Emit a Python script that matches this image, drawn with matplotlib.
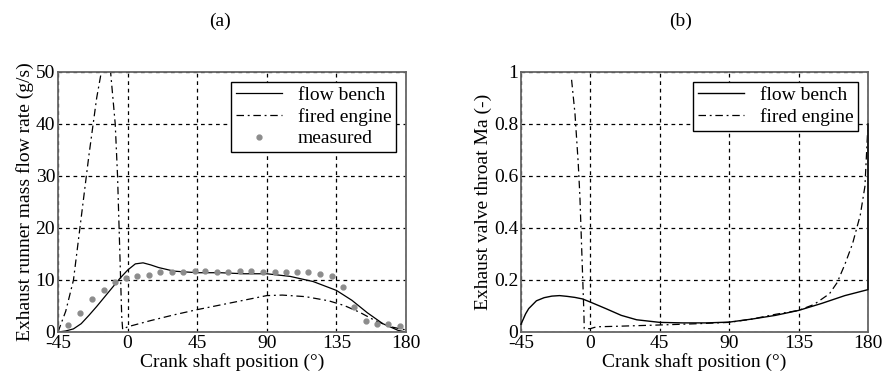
import numpy as np
import matplotlib
matplotlib.use("Agg")
import matplotlib.pyplot as plt

# === DATA ===
# (a) mass flow rate, g/s
bench_a_x = [-45, -40, -35, -30, -25, -20, -15, -10, -5, 0, 5, 10, 15, 20, 30, 45, 60, 75, 90,
             105, 120, 135, 145, 155, 165, 175, 180]
bench_a_y = [0, 0.2, 0.6, 1.6, 3.2, 4.9, 6.7, 8.5, 10.3, 11.9, 13.1, 13.3, 12.9, 12.4, 11.7,
             11.4, 11.4, 11.2, 11.2, 10.7, 9.7, 8.0, 6.1, 3.7, 1.6, 0.3, 0]

fired_a_x = [-45, -40, -35, -30, -25, -20, -17, -14, -11, -8, -6.5, -5.5, -4.5, -3.8, -3.2,
             0, 15, 30, 45, 60, 75, 90, 100, 115, 130, 140, 150, 160, 170, 180]
fired_a_y = [0, 4, 10, 22, 34, 45, 50, 54, 50, 40, 30, 20, 10, 3, 0.5,
             1.0, 2.2, 3.3, 4.3, 5.2, 6.1, 7.0, 7.1, 6.8, 6.0, 5.1, 3.8, 2.2, 1.0, 0.4]

meas_x = [-38.5, -30.5, -23, -15.2, -7.9, -0.8, 6.3, 13.7, 21.2, 28.6, 36.1, 43.7, 50.3, 57.7,
          65.2, 72.8, 80.1, 87.7, 95, 102.3, 109.7, 116.8, 124.3, 131.9, 139.4, 146.3, 153.9,
          161, 168.5, 176.1]
meas_y = [1.3, 3.7, 6.4, 8.0, 9.6, 10.4, 10.8, 11.0, 11.5, 11.5, 11.5, 11.8, 11.8, 11.5,
          11.5, 11.8, 11.8, 11.5, 11.5, 11.5, 11.5, 11.5, 11.2, 10.8, 8.7, 4.9, 2.2,
          1.6, 1.5, 1.2]

# (b) valve throat Mach number
bench_b_x = [-45, -42, -40, -35, -30, -25, -20, -15, -10, -5, 0, 10, 20, 30, 45, 60, 75, 90,
             105, 120, 135, 150, 165, 180, 180]
bench_b_y = [0.03, 0.07, 0.09, 0.12, 0.132, 0.138, 0.14, 0.137, 0.133, 0.127, 0.115, 0.09,
             0.064, 0.047, 0.037, 0.035, 0.035, 0.038, 0.05, 0.064, 0.083, 0.11, 0.14, 0.163, 0.8]

fired_b_x = [-12.2, -10, -7.9, -6.8, -5.3, -4.2, -4, 0, 4, 17, 45, 70, 90, 105, 120, 135,
             145, 155, 160, 165, 170, 175, 178, 180]
fired_b_y = [0.97, 0.84, 0.65, 0.52, 0.26, 0.07, 0.013, 0.013, 0.02, 0.022, 0.027, 0.032,
             0.037, 0.05, 0.068, 0.083, 0.106, 0.147, 0.19, 0.26, 0.34, 0.45, 0.56, 0.8]

x_ticks = [-45, 0, 45, 90, 135, 180]

plt.rcParams['font.family'] = ['Liberation Serif', 'DejaVu Serif']
plt.rcParams['font.size'] = 14
plt.rcParams['axes.unicode_minus'] = False

DASHDOT = (0, (6, 3, 1.5, 3))

fig = plt.figure(figsize=(8.85, 3.85), dpi=100)
ax1 = fig.add_axes([58 / 885, 53 / 385, 348 / 885, 260 / 385])
ax2 = fig.add_axes([521 / 885, 53 / 385, 347 / 885, 260 / 385])


def style(ax, yticks):
    ax.set_xlim(-45, 180)
    ax.set_xticks(x_ticks)
    ax.set_yticks(yticks)
    ax.grid(True, color='black', linestyle=(0, (3, 3)), linewidth=0.9)
    ax.tick_params(direction='in', length=0, pad=2)
    for s in ax.spines.values():
        s.set_color('#666666')
        s.set_linewidth(1.3)
    ax.set_xlabel("Crank shaft position (°)", labelpad=1)


# --- (a) ---
ax1.plot(bench_a_x, bench_a_y, color='black', lw=0.9, label='flow bench')
ax1.plot(fired_a_x, fired_a_y, color='black', lw=0.9, linestyle=DASHDOT, label='fired engine')
ax1.plot(meas_x, meas_y, linestyle='none', marker='o', ms=3.5, color='#8c8c8c',
         label='measured')
ax1.set_ylim(0, 50)
style(ax1, [0, 10, 20, 30, 40, 50])
ax1.set_ylabel("Exhaust runner mass flow rate (g/s)", labelpad=1)
leg1 = ax1.legend(loc='upper right', fancybox=False, edgecolor='black', framealpha=1,
                  handlelength=2.4, borderpad=0.25, labelspacing=0.2, borderaxespad=0.5,
                  fontsize=14)
leg1.get_frame().set_linewidth(1.0)

# --- (b) ---
ax2.plot(bench_b_x, bench_b_y, color='black', lw=1.0, label='flow bench', clip_on=False,
         zorder=3)
ax2.plot(fired_b_x, fired_b_y, color='black', lw=0.9, linestyle=DASHDOT, label='fired engine')
ax2.set_ylim(0, 1)
style(ax2, [0, 0.2, 0.4, 0.6, 0.8, 1])
ax2.set_yticklabels(['0', '0.2', '0.4', '0.6', '0.8', '1'])
ax2.set_ylabel("Exhaust valve throat Ma (-)", labelpad=1)
leg2 = ax2.legend(loc='upper right', fancybox=False, edgecolor='black', framealpha=1,
                  handlelength=2.4, borderpad=0.25, labelspacing=0.2, borderaxespad=0.5,
                  fontsize=14)
leg2.get_frame().set_linewidth(1.0)

fig.text(220 / 885, 1 - 21 / 385, "(a)", ha='center', va='center', fontsize=14)
fig.text(681 / 885, 1 - 21 / 385, "(b)", ha='center', va='center', fontsize=14)

fig.savefig("out.png", dpi=100)
